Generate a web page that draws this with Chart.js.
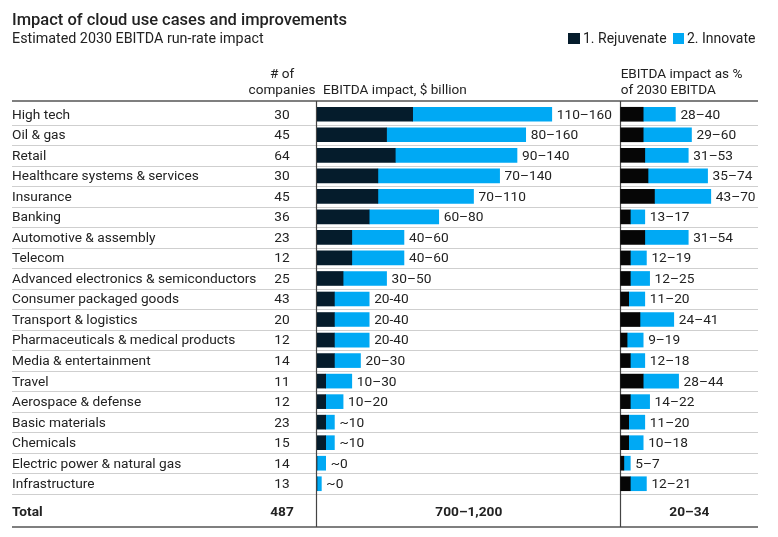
<!DOCTYPE html>
<html>
<head>
<meta charset="utf-8">
<script src="https://cdn.jsdelivr.net/npm/chart.js@4"></script>
<style>
  html, body { margin: 0; padding: 0; background: #fff; }
  #wrap { position: relative; width: 778px; height: 537px; }
</style>
</head>
<body>
<div id="wrap"><canvas id="cloudChart" width="778" height="537"></canvas></div>
<script>
// Sectors (rows)
const categories = [
    "High tech", "Oil & gas", "Retail", "Healthcare systems & services", "Insurance",
    "Banking", "Automotive & assembly", "Telecom", "Advanced electronics & semiconductors",
    "Consumer packaged goods", "Transport & logistics", "Pharmaceuticals & medical products",
    "Media & entertainment", "Travel", "Aerospace & defense", "Basic materials",
    "Chemicals", "Electric power & natural gas", "Infrastructure"
];
const companies = [30, 45, 64, 30, 45, 36, 23, 12, 25, 43, 20, 12, 14, 11, 12, 23, 15, 14, 13];

// EBITDA impact, $ billion
const rejuvenateBn = [55, 40, 45, 35, 35, 30, 20, 20, 15, 10, 10, 10, 10, 5, 5, 5, 5, 0, 0];
const innovateBn = [80, 80, 70, 70, 55, 40, 30, 30, 25, 20, 20, 20, 15, 15, 10, 5, 5, 5, 2.5];
const rangeBn = ["110–160", "80–160", "90–140", "70–140", "70–110", "60–80", "40–60", "40–60",
    "30–50", "20-40", "20-40", "20-40", "20–30", "10–30", "10–20", "~10", "~10", "~0", "~0"];

// EBITDA impact as % of 2030 EBITDA
const rejuvenatePct = [14, 14, 15, 17, 21, 6, 15, 6, 6, 5, 12, 4, 6, 14, 6, 5, 5, 2, 6];
const innovatePct = [20, 30, 27, 37, 35, 9, 27, 10, 12, 10, 21, 10, 9, 22, 12, 10, 9, 4, 10];
const rangePct = ["28–40", "29–60", "31–53", "35–74", "43–70", "13–17", "31–54", "12–19", "12–25",
    "11–20", "24–41", "9–19", "12–18", "28–44", "14–22", "11–20", "10–18", "5–7", "12–21"];

const totalCompanies = "487";
const totalBn = "700–1,200";
const totalPct = "20–34";

const NAVY = "#051c2c";
const BLUE = "#00a9f4";
const FONT = "Roboto, 'Liberation Sans', Arial, sans-serif";

// Texte et lignes du tableau
const tablePlugin = {
    id: "tableText",
    beforeDatasetsDraw(chart) {
        const ctx = chart.ctx;
        const y = chart.scales.y;
        const band = y.getPixelForValue(1) - y.getPixelForValue(0);
        const xMid = chart.scales.x1.getPixelForValue(0);
        const xPct = chart.scales.x2.getPixelForValue(0);
        ctx.save();
        // separators between rows
        ctx.strokeStyle = "#cfcfcf";
        ctx.lineWidth = 1;
        categories.forEach((c, i) => {
            const yy = Math.round(y.getPixelForValue(i) + band / 2) + 0.5;
            ctx.beginPath();
            ctx.moveTo(12, yy);
            ctx.lineTo(758, yy);
            ctx.stroke();
        });
        // header & bottom lines
        ctx.strokeStyle = "#555";
        ctx.lineWidth = 1.5;
        [101, 527].forEach(yy => {
            ctx.beginPath();
            ctx.moveTo(12, yy);
            ctx.lineTo(758, yy);
            ctx.stroke();
        });
        // vertical axes
        ctx.strokeStyle = "#444";
        ctx.lineWidth = 1.2;
        [Math.round(xMid) - 0.5, Math.round(xPct) - 0.5].forEach(xx => {
            ctx.beginPath();
            ctx.moveTo(xx, 101);
            ctx.lineTo(xx, 527);
            ctx.stroke();
        });
        ctx.restore();
    },
    afterDatasetsDraw(chart) {
        const ctx = chart.ctx;
        const y = chart.scales.y;
        const band = y.getPixelForValue(1) - y.getPixelForValue(0);
        const xMid = chart.scales.x1.getPixelForValue(0);
        const xPct = chart.scales.x2.getPixelForValue(0);
        ctx.save();
        ctx.fillStyle = "#222";
        ctx.textBaseline = "middle";

        // title block
        ctx.font = "500 16.5px " + FONT;
        ctx.textAlign = "left";
        ctx.fillText("Impact of cloud use cases and improvements", 12, 21);
        ctx.font = "14.3px " + FONT;
        ctx.fillText("Estimated 2030 EBITDA run-rate impact", 12, 39);

        // legend
        ctx.fillStyle = NAVY;
        ctx.fillRect(568, 33, 12, 11);
        ctx.fillStyle = BLUE;
        ctx.fillRect(673, 33, 11, 11);
        ctx.fillStyle = "#222";
        ctx.font = "14px " + FONT;
        ctx.fillText("1. Rejuvenate", 583, 39);
        ctx.fillText("2. Innovate", 687, 39);

        // column headers
        ctx.font = "13.6px " + FONT;
        ctx.textAlign = "center";
        ctx.fillText("# of", 282, 75);
        ctx.fillText("companies", 282, 91);
        ctx.textAlign = "left";
        ctx.fillText("EBITDA impact, $ billion", xMid + 6, 91);
        ctx.fillText("EBITDA impact as %", xPct, 75);
        ctx.fillText("of 2030 EBITDA", xPct, 91);

        // rows
        ctx.font = "13.7px " + FONT;
        const midMeta = chart.getDatasetMeta(1);
        const pctMeta = chart.getDatasetMeta(3);
        categories.forEach((c, i) => {
            const yy = y.getPixelForValue(i) + 1;
            ctx.textAlign = "left";
            ctx.fillText(c, 12, yy);
            ctx.textAlign = "center";
            ctx.fillText(String(companies[i]), 282, yy);
            ctx.textAlign = "left";
            ctx.fillText(rangeBn[i], midMeta.data[i].x + 5, yy);
            ctx.fillText(rangePct[i], pctMeta.data[i].x + 5, yy);
        });

        // total row
        const yTot = y.getPixelForValue(categories.length - 1) + band / 2 + 19;
        ctx.font = "bold 13.7px " + FONT;
        ctx.textAlign = "left";
        ctx.fillText("Total", 12, yTot);
        ctx.textAlign = "center";
        ctx.fillText(totalCompanies, 282, yTot);
        ctx.fillText(totalBn, (xMid + xPct) / 2, yTot);
        ctx.fillText(totalPct, (xPct + 758) / 2, yTot);
        ctx.restore();
    }
};

const barCommon = { grouped: false, barThickness: 14, borderWidth: 0 };

new Chart(document.getElementById("cloudChart"), {
    type: "bar",
    data: {
        labels: categories,
        datasets: [
            { ...barCommon, label: "1. Rejuvenate", data: rejuvenateBn, backgroundColor: NAVY, xAxisID: "x1" },
            { ...barCommon, label: "2. Innovate", data: innovateBn, backgroundColor: BLUE, xAxisID: "x1" },
            { ...barCommon, label: "1. Rejuvenate %", data: rejuvenatePct, backgroundColor: "#060606", xAxisID: "x2" },
            { ...barCommon, label: "2. Innovate %", data: innovatePct, backgroundColor: BLUE, xAxisID: "x2" },
        ],
    },
    options: {
        indexAxis: "y",
        responsive: false,
        animation: false,
        layout: { padding: { left: 317, right: 21, top: 104, bottom: 43 } },
        plugins: {
            legend: { display: false },
            tooltip: { enabled: false },
        },
        scales: {
            y: { display: false, stacked: true, offset: true },
            // $ billion: 0 at the left axis
            x1: { display: false, stacked: true, min: 0, max: 253 },
            // % of EBITDA: 0 at the right-hand section divider
            x2: { display: false, stacked: true, min: -188.6, max: 84.7 },
        },
    },
    plugins: [tablePlugin],
});
</script>
</body>
</html>
